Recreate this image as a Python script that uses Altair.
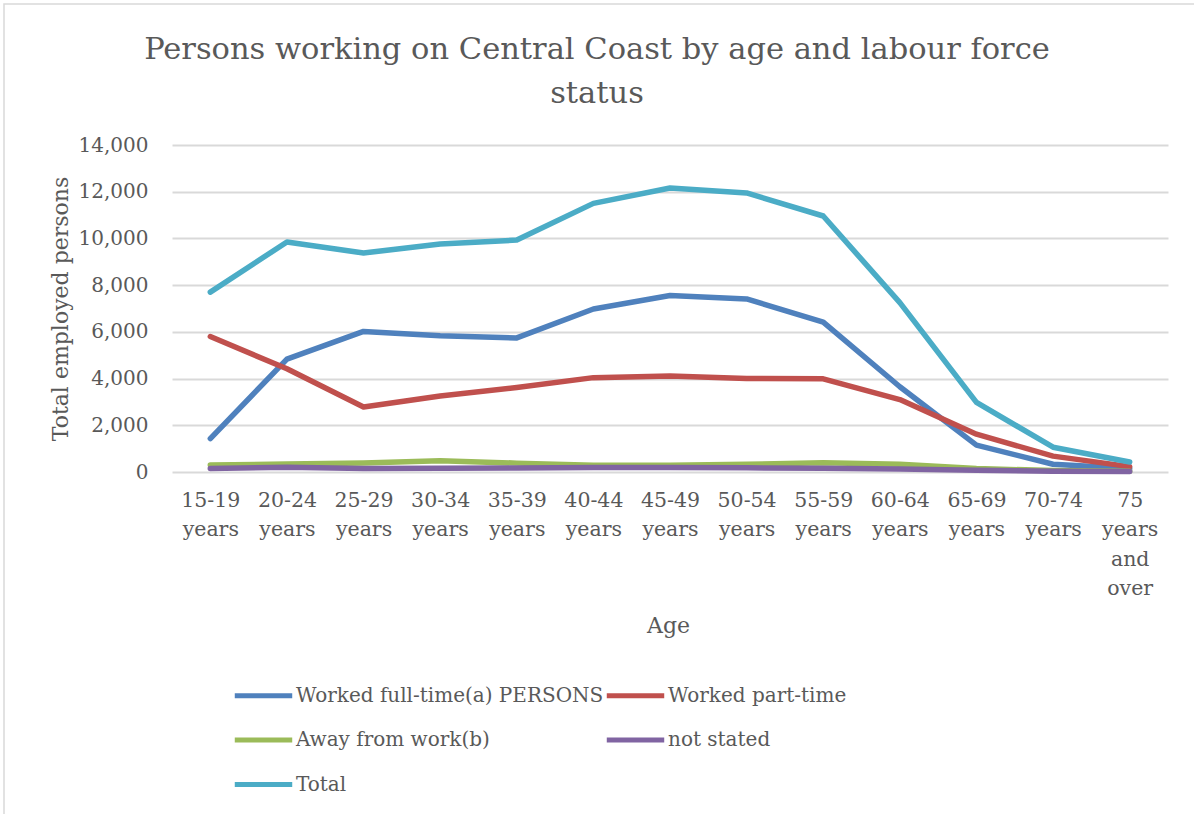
import altair as alt
import pandas as pd

ages = ["15-19 years", "20-24 years", "25-29 years", "30-34 years", "35-39 years",
        "40-44 years", "45-49 years", "50-54 years", "55-59 years", "60-64 years",
        "65-69 years", "70-74 years", "75 years and over"]

full_time = [1430, 4830, 6020, 5830, 5740, 6980, 7560, 7410, 6420, 3650, 1150, 330, 150]
part_time = [5800, 4420, 2780, 3250, 3620, 4040, 4110, 4000, 3990, 3100, 1620, 680, 230]
away = [300, 340, 390, 480, 380, 290, 290, 330, 400, 330, 150, 60, 30]
not_stated = [150, 200, 150, 160, 170, 190, 190, 180, 160, 130, 70, 30, 20]
total = [7700, 9850, 9380, 9760, 9930, 11500, 12160, 11950, 10960, 7250, 2980, 1060, 430]

series_names = ["Worked full-time(a) PERSONS", "Worked part-time",
                "Away from work(b)", "not stated", "Total"]
series_values = [full_time, part_time, away, not_stated, total]
series_colors = ["#4F81BD", "#C0504D", "#9BBB59", "#8064A2", "#4BACC6"]

# the legend grid fills column by column, so list the entries in that order
legend_order = [0, 2, 4, 1, 3]
legend_names = [series_names[i] for i in legend_order]
legend_colors = [series_colors[i] for i in legend_order]

rows = []
for order, (name, vals) in enumerate(zip(series_names, series_values)):
    for age, v in zip(ages, vals):
        rows.append({"Age": age, "Status": name, "Persons": v, "order": order})
df = pd.DataFrame(rows)

FONT = "DejaVu Serif"
TEXT = "#595959"
GRID = "#D9D9D9"

W, H = 996, 327
PAD_L, PAD_T = 172, 145

lines = alt.Chart(df).mark_line(
    strokeWidth=5.5, strokeCap="round", strokeJoin="round"
).encode(
    x=alt.X("Age:N", sort=ages, title="Age",
            axis=alt.Axis(labelAngle=0, labelExpr="split(datum.label, ' ')",
                          labelLineHeight=29.5, labelPadding=18, labelFontSize=20.5,
                          domain=False, ticks=False, grid=False,
                          titleFontSize=22, titleFontWeight="normal",
                          titleX=W / 2 - 2, titleY=153, titleBaseline="middle",
                          titleAlign="center")),
    y=alt.Y("Persons:Q", title="Total employed persons",
            scale=alt.Scale(domain=[0, 14000]),
            axis=alt.Axis(values=list(range(0, 14001, 2000)), format=",d",
                          labelFontSize=20, labelPadding=24, domain=False,
                          ticks=False, grid=True, gridColor=GRID, gridWidth=2,
                          titleFontSize=22, titleFontWeight="normal",
                          titleX=-112, titleY=H / 2, titleAlign="center",
                          titleBaseline="middle")),
    color=alt.Color("Status:N", sort=legend_names,
                    scale=alt.Scale(domain=legend_names, range=legend_colors),
                    legend=alt.Legend(orient="none", legendX=60, legendY=519,
                                      columns=2, title=None,
                                      symbolType="stroke", symbolStrokeWidth=5,
                                      symbolSize=3300, labelFontSize=20,
                                      labelOffset=1, columnPadding=-8,
                                      rowPadding=2.5, labelLimit=400)),
    order=alt.Order("order:Q"),
)

frame = alt.Chart(pd.DataFrame({"k": [0]})).mark_rect(
    fill=None, stroke=GRID, strokeWidth=1.5
).encode(
    x=alt.value(4 - PAD_L), x2=alt.value(1200 - PAD_L),
    y=alt.value(4 - PAD_T), y2=alt.value(820 - PAD_T),
)

chart = alt.layer(frame, lines).properties(
    width=W, height=H,
    title=alt.TitleParams(
        ["Persons working on Central Coast by age and labour force", "status"],
        fontSize=30.5, font=FONT, color=TEXT, fontWeight="normal",
        anchor="middle", frame="group", dx=-73, offset=-106, lineHeight=44,
    ),
    autosize=alt.AutoSizeParams(type="none"),
    padding={"left": PAD_L, "top": PAD_T, "right": 1194 - PAD_L - W, "bottom": 814 - PAD_T - H},
).configure(
    font=FONT,
).configure_axis(
    labelColor=TEXT, titleColor=TEXT, labelFont=FONT, titleFont=FONT,
).configure_legend(
    labelColor=TEXT, labelFont=FONT,
).configure_view(
    stroke=None,
)

chart.save("out.html", embed_options={"renderer": "svg", "actions": False})
